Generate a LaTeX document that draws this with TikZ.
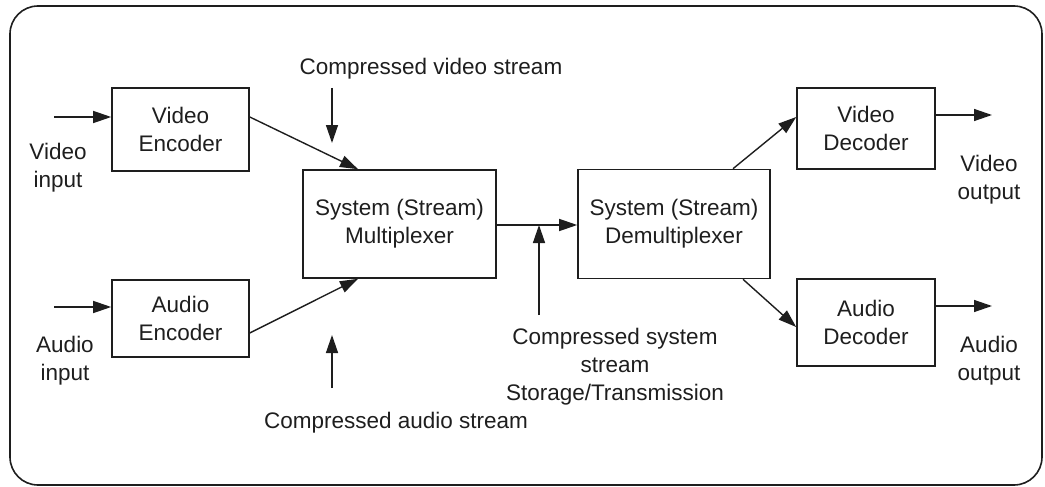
\documentclass[tikz,border=0pt]{standalone}
\usepackage{fontspec}
\setmainfont{Liberation Sans}
\usetikzlibrary{arrows.meta}
\definecolor{ink}{HTML}{1E1E1E}
\definecolor{txt}{HTML}{1E1E1E}
\begin{document}
\begin{tikzpicture}[x=1pt,y=-1pt,
  every node/.style={text=txt,font=\fontsize{22.5}{28}\selectfont,align=center,inner sep=0pt},
  blockbox/.style={draw=ink,line width=1.6pt,minimum width=#1},
  flow/.style={draw=ink,line width=1.4pt,-{Triangle[length=18pt,width=12pt]}}]
  \useasboundingbox (0,0) rectangle (1045,487);
  % outer frame
  \draw[ink,line width=1.6pt,rounded corners=28pt] (10,6) rectangle (1042,485);

  % processing blocks
  \node[blockbox=137pt,minimum height=83pt] (ve) at (180.5,129.5) {Video\\Encoder};
  \node[blockbox=137pt,minimum height=77pt] (ae) at (180.5,318.5) {Audio\\Encoder};
  \node[blockbox=193pt,minimum height=108pt] (mux) at (399.5,224) {System (Stream)\\Multiplexer};
  \node[blockbox=192pt,minimum height=109pt] (dmx) at (674,224) {System (Stream)\\Demultiplexer};
  \node[blockbox=138pt,minimum height=81pt] (vd) at (866,128.5) {Video\\Decoder};
  \node[blockbox=138pt,minimum height=87pt] (ad) at (866,322.5) {Audio\\Decoder};

  % labels
  \node (vin) at (58,168) {Video\\input};
  \node (ain) at (65,361) {Audio\\input};
  \node (vout) at (989,180) {Video\\output};
  \node (aout) at (989,361) {Audio\\output};
  \node (cvs) at (431,69) {Compressed video stream};
  \node (cas) at (396,423) {Compressed audio stream};
  \node (css) at (615,367) {Compressed system\\stream\\Storage/Transmission};

  % free ends of the arrows
  \coordinate (vinA) at (54,117);
  \coordinate (ainA) at (54,307);
  \coordinate (voutA) at (992,115);
  \coordinate (aoutA) at (992,306);
  \coordinate (cvsTop) at (332,88);
  \coordinate (cvsTip) at (332,143);
  \coordinate (casBot) at (332,388);
  \coordinate (casTip) at (332,335);
  \coordinate (cssBot) at (539,315);

  % inputs and outputs
  \draw[flow] (vinA) -- (vinA -| ve.west);
  \draw[flow] (ainA) -- (ainA -| ae.west);
  \draw[flow] (vd.east |- voutA) -- (voutA);
  \draw[flow] (ad.east |- aoutA) -- (aoutA);

  % encoders into the multiplexer
  \draw[flow] ([yshift=12.5pt]ve.east) -- ([xshift=-41.5pt]mux.north);
  \draw[flow] ([yshift=-14.5pt]ae.east) -- ([xshift=-41.5pt]mux.south);
  \draw[flow] (cvsTop) -- (cvsTip);
  \draw[flow] (casBot) -- (casTip);

  % system stream
  \draw[flow] ([yshift=-1pt]mux.east) -- ([yshift=-1pt]dmx.west);
  \draw[flow] (cssBot) -- (cssBot |- 0,225);

  % demultiplexer to the decoders
  \draw[flow] ([xshift=59pt]dmx.north) -- ([yshift=11.5pt]vd.west);
  \draw[flow] ([xshift=69pt]dmx.south) -- ([yshift=-4.5pt]ad.west);
\end{tikzpicture}
\end{document}
